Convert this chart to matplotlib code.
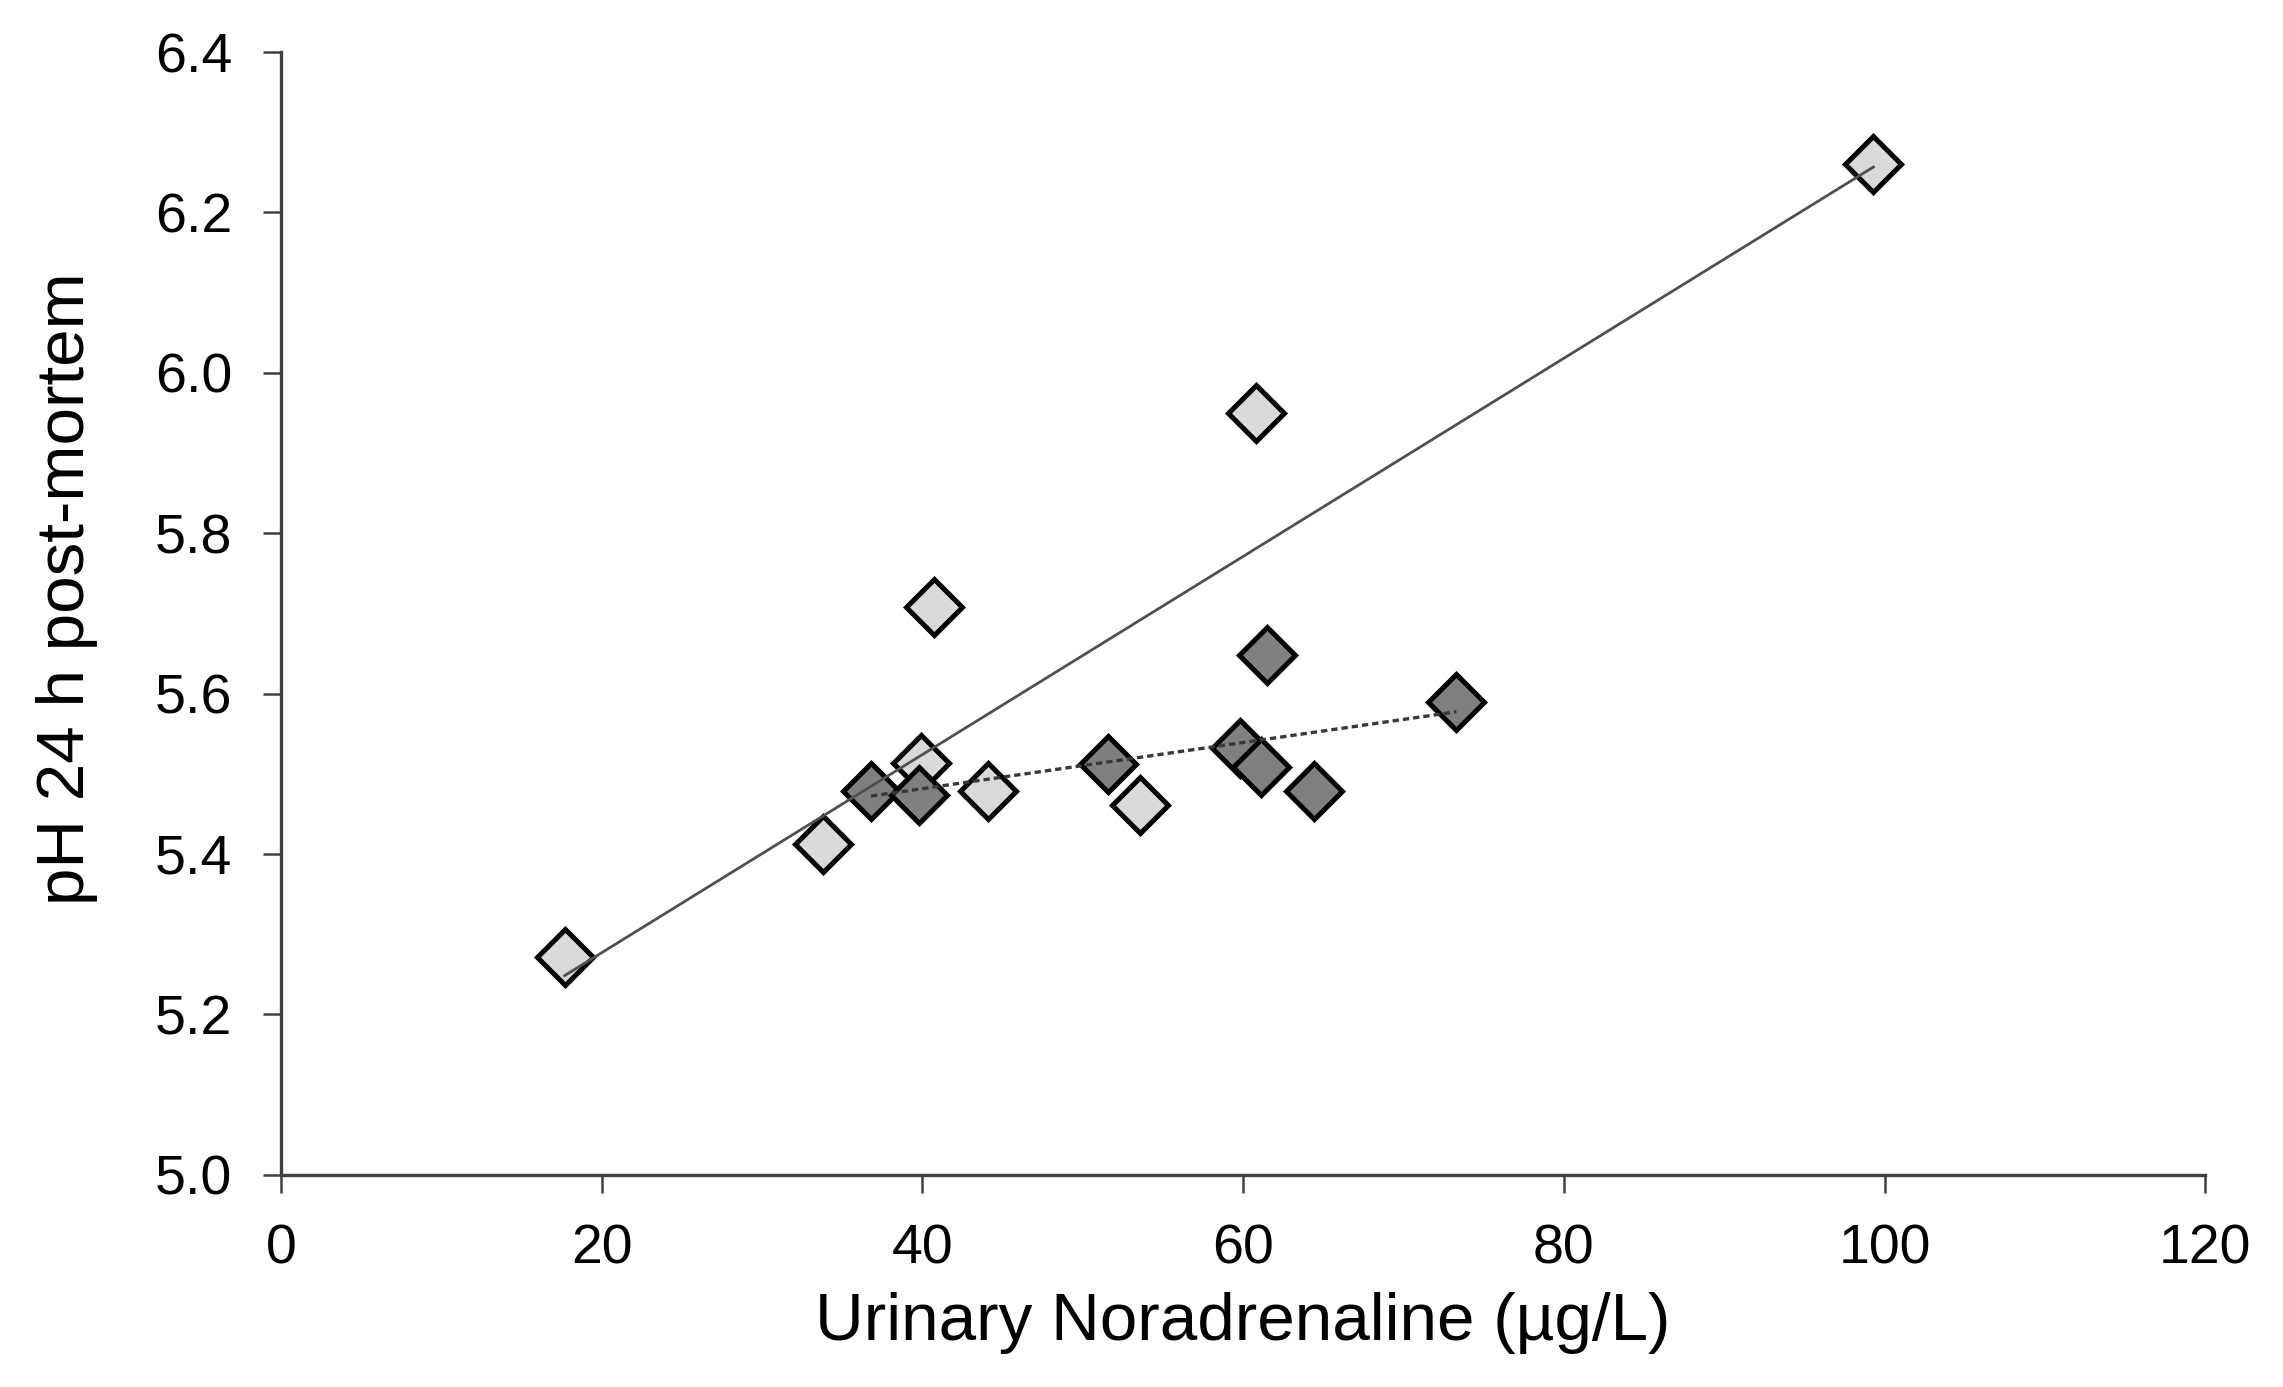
import numpy as np
import matplotlib
matplotlib.use("Agg")
import matplotlib.pyplot as plt

plt.rcParams['font.family'] = ['Liberation Sans', 'DejaVu Sans']

# light group
light_x = [17.7, 33.8, 39.9, 40.7, 44.1, 53.6, 60.8, 99.3]
light_y = [5.272, 5.412, 5.514, 5.708, 5.478, 5.461, 5.950, 6.260]
# dark group
dark_x = [36.8, 39.8, 51.6, 59.8, 61.1, 61.5, 64.4, 73.3]
dark_y = [5.478, 5.474, 5.512, 5.532, 5.508, 5.648, 5.479, 5.590]

xticks = [0, 20, 40, 60, 80, 100, 120]
yticks = [5.0, 5.2, 5.4, 5.6, 5.8, 6.0, 6.2, 6.4]

fig = plt.figure(figsize=(22.83, 13.87), dpi=100)
ax = fig.add_axes([0.123, 0.153, 0.843, 0.8095])

mk = dict(marker='D', markersize=29, markeredgecolor='black', markeredgewidth=3.6, linestyle='none')
ax.plot(light_x, light_y, markerfacecolor='#d9d9d9', zorder=3, **mk)
ax.plot(dark_x, dark_y, markerfacecolor='#7f7f7f', zorder=3, **mk)

# linear trendlines over each group's range
for xs, ys, style in [(light_x, light_y, dict(color='#505050', linewidth=2.0, linestyle='-')),
                      (dark_x, dark_y, dict(color='#383838', linewidth=2.4, linestyle=(0, (1.9, 1.2))))]:
    k, b = np.polyfit(xs, ys, 1)
    xx = np.array([min(xs), max(xs)])
    ax.plot(xx, k * xx + b, zorder=4, **style)

ax.set_xlim(0, 120)
ax.set_ylim(5.0, 6.4)
ax.set_xticks(xticks)
ax.set_yticks(yticks)
ax.set_yticklabels([f"{v:.1f}" for v in yticks])

for s in ['top', 'right']:
    ax.spines[s].set_visible(False)
for s in ['left', 'bottom']:
    ax.spines[s].set_linewidth(2.4)
    ax.spines[s].set_color('#404040')

ax.tick_params(direction='out', length=13, width=1.8, color='#404040',
               labelsize=40, pad=22)

ax.set_xlabel('Urinary Noradrenaline (µg/L)', fontsize=48.5, labelpad=12)
ax.set_ylabel('pH 24 h post-mortem', fontsize=48.5)
ax.yaxis.set_label_coords(-0.095, 0.522)

fig.savefig('out.png', dpi=100)
